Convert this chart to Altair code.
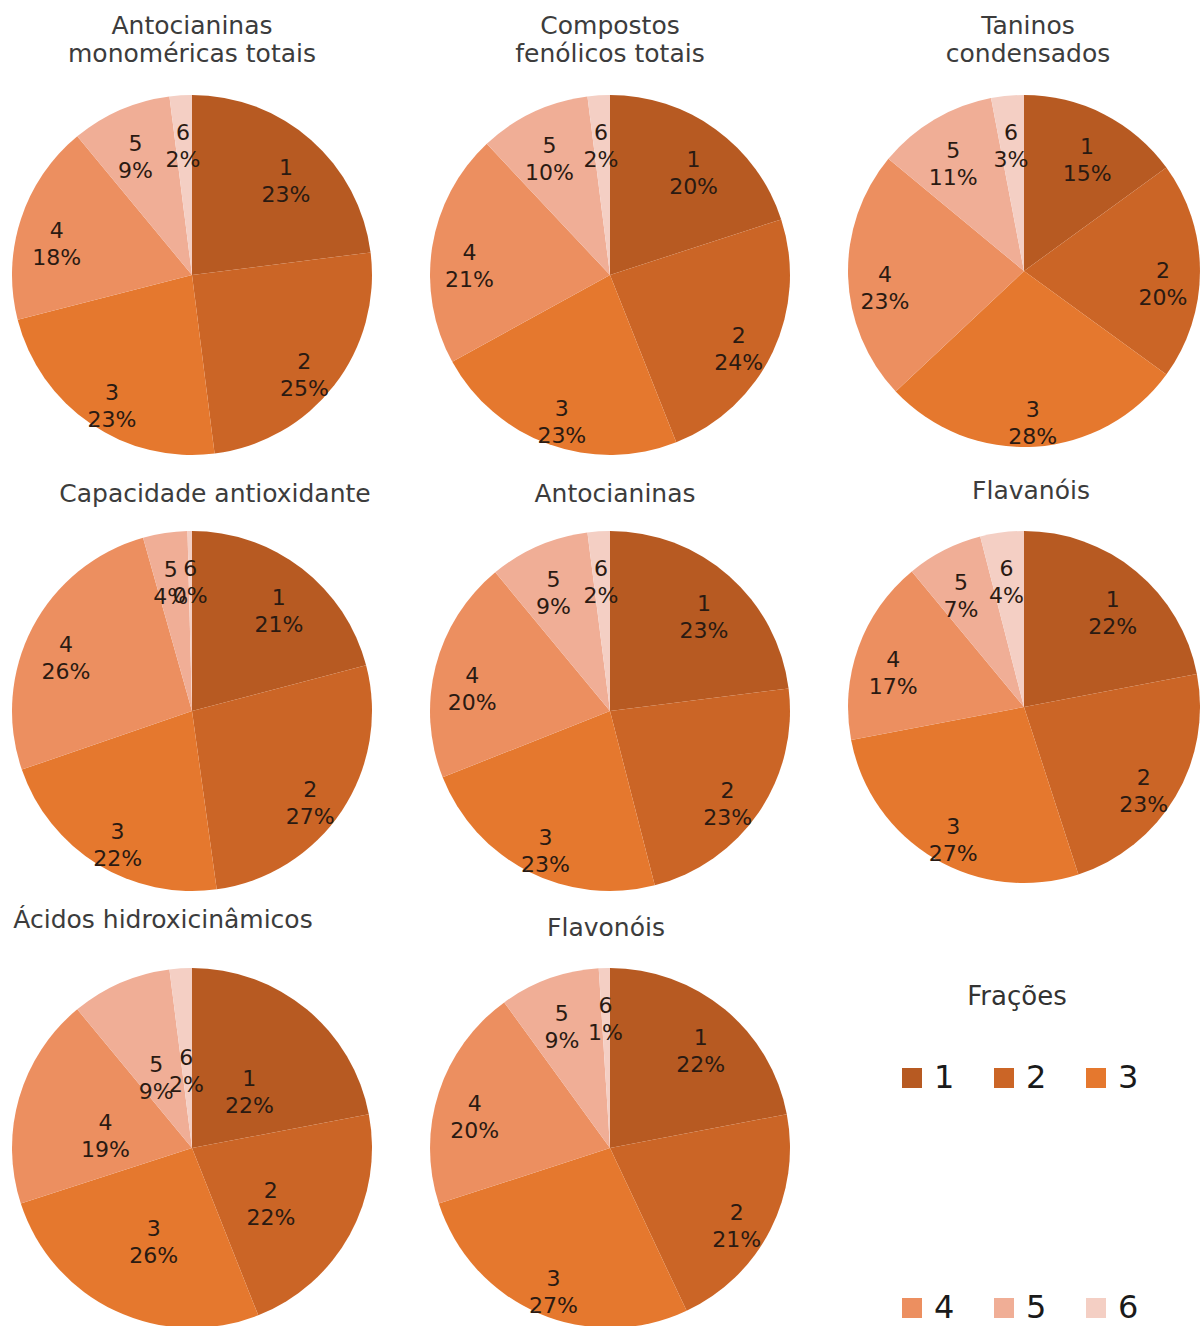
import altair as alt
import pandas as pd

# Fractions (1-6) and their share (%) for each analysed group
fracoes = ["1", "2", "3", "4", "5", "6"]

antocianinas_monomericas = [23, 25, 23, 18, 9, 2]
compostos_fenolicos = [20, 24, 23, 21, 10, 2]
taninos_condensados = [15, 20, 28, 23, 11, 3]
capacidade_antioxidante = [21, 27, 22, 26, 4, 0.4]
antocianinas = [23, 23, 23, 20, 9, 2]
flavanois = [22, 23, 27, 17, 7, 4]
acidos_hidroxicinamicos = [22, 22, 26, 19, 9, 2]
flavonois = [22, 21, 27, 20, 9, 1]

cores = ["#b75a22", "#cb6526", "#e5782e", "#ec8f60", "#f0ae96", "#f4cfc4"]

grupos = [
    ("amt", ["Antocianinas", "monoméricas totais"], antocianinas_monomericas),
    ("cft", ["Compostos", "fenólicos totais"], compostos_fenolicos),
    ("tc", ["Taninos", "condensados"], taninos_condensados),
    ("ca", "Capacidade antioxidante", capacidade_antioxidante),
    ("ant", "Antocianinas", antocianinas),
    ("flavan", "Flavanóis", flavanois),
    ("ahc", "Ácidos hidroxicinâmicos", acidos_hidroxicinamicos),
    ("flavon", "Flavonóis", flavonois),
]

rows = []
for key, _, valores in grupos:
    for i, (f, v) in enumerate(zip(fracoes, valores)):
        rows.append({"grupo": key, "fracao": f, "ordem": i, "valor": v,
                     "rotulo": f"{f}\n{v:.0f}%"})
df = pd.DataFrame(rows)

FONT = "DejaVu Sans"

color_enc = alt.Color(
    "fracao:N",
    scale=alt.Scale(domain=fracoes, range=cores),
    legend=alt.Legend(
        title="Frações",
        orient="none",
        legendX=884,
        legendY=889,
        direction="horizontal",
        columns=3,
        symbolType="square",
        symbolSize=400,
        symbolStrokeWidth=0,
        labelFontSize=32,
        labelFont=FONT,
        labelColor="#1a1a1a",
        labelOffset=6,
        columnPadding=33,
        rowPadding=198,
        titleFontSize=26,
        titleFont=FONT,
        titleFontWeight="normal",
        titleColor="#333333",
        titleAnchor="middle",
        titlePadding=52,
    ),
)


def pizza(key, titulo, raio, dx=0, dy=0, offset=28, pos_rotulo=0.79):
    base = alt.Chart(df).transform_filter(alt.datum.grupo == key).encode(
        theta=alt.Theta("valor:Q", stack=True),
        order=alt.Order("ordem:Q", sort="ascending"),
    )
    arcos = base.mark_arc(outerRadius=raio, stroke=None).encode(color=color_enc)
    textos = base.mark_text(
        radius=raio * pos_rotulo, fontSize=22, font=FONT, lineBreak="\n",
        lineHeight=27, color="#2a1a12", align="center", baseline="middle",
    ).encode(text="rotulo:N")
    return (arcos + textos).properties(
        width=2 * raio,
        height=2 * raio,
        title=alt.TitleParams(
            text=titulo, fontSize=25, font=FONT, fontWeight="normal",
            color="#3c3c3c", lineHeight=28, anchor="middle",
            dx=dx, dy=dy, offset=offset,
        ),
    )


linha1 = alt.hconcat(
    pizza("amt", grupos[0][1], 180, offset=28),
    pizza("cft", grupos[1][1], 180, offset=28),
    pizza("tc", grupos[2][1], 176, dx=4, offset=28),
    spacing=58,
)
linha2 = alt.hconcat(
    pizza("ca", grupos[3][1], 180, dx=23, dy=4),
    pizza("ant", grupos[4][1], 180, dx=5, dy=4),
    pizza("flavan", grupos[5][1], 176, dx=7, dy=1),
    spacing=58,
)
linha3 = alt.hconcat(
    pizza("ahc", grupos[6][1], 180, dx=-29, dy=-17, offset=18, pos_rotulo=0.5),
    pizza("flavon", grupos[7][1], 180, dx=-4, dy=-9, offset=18),
    spacing=58,
)

chart = (
    alt.vconcat(linha1, alt.vconcat(linha2, linha3, spacing=17), spacing=24)
    .properties(padding={"left": 12, "top": 14, "right": 0, "bottom": 0})
    .configure_view(stroke=None)
    .configure(background="white")
)

chart.save("out.html", embed_options={"renderer": "svg", "actions": False})
